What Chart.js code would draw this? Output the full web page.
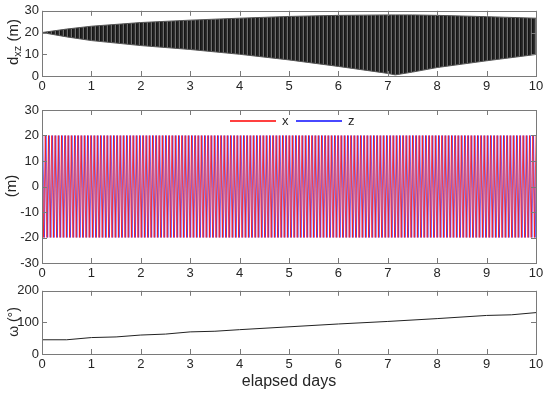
<!DOCTYPE html>
<html>
<head>
<meta charset="utf-8">
<script src="https://cdn.jsdelivr.net/npm/chart.js@4.4.1/dist/chart.umd.min.js"></script>
<style>
  body { margin: 0; background: #fff; width: 550px; height: 396px; position: relative; overflow: hidden; }
  canvas { position: absolute; left: 0; }
</style>
</head>
<body>
<canvas id="dxzChart" width="550" height="95" style="top:0px"></canvas>
<canvas id="xzChart" width="550" height="185" style="top:95px"></canvas>
<canvas id="omegaChart" width="550" height="116" style="top:280px"></canvas>
<script>
// envelope of d_xz (days, metres)
const envDays  = [0, 0.5, 1, 2, 3, 4, 5, 6, 6.5, 7, 7.15, 7.5, 8, 9, 10]
const dxzUpper = [20, 21.6, 22.9, 24.6, 25.7, 26.6, 27.4, 27.9, 28, 28.1, 28.1, 28.1, 27.9, 27.3, 26.6]
const dxzLower = [20, 18, 16.3, 14, 12.2, 10, 7.4, 4.4, 2.8, 1.2, 0.5, 1.8, 3.9, 7, 9.9]

// x / z peaks, one per half orbit (152 orbits in 10 days)
const xPeaks = [
  20,-20,20,-20,20,-20,20,-20,20,-20, 20,-20,20,-20,20,-20,20,-20,20,-20,
  20,-20,20,-20,20,-20,20,-20,20,-20, 20,-20,20,-20,20,-20,20,-20,20,-20,
  20,-20,20,-20,20,-20,20,-20,20,-20, 20,-20,20,-20,20,-20,20,-20,20,-20,
  20,-20,20,-20,20,-20,20,-20,20,-20, 20,-20,20,-20,20,-20,20,-20,20,-20,
  20,-20,20,-20,20,-20,20,-20,20,-20, 20,-20,20,-20,20,-20,20,-20,20,-20,
  20,-20,20,-20,20,-20,20,-20,20,-20, 20,-20,20,-20,20,-20,20,-20,20,-20,
  20,-20,20,-20,20,-20,20,-20,20,-20, 20,-20,20,-20,20,-20,20,-20,20,-20,
  20,-20,20,-20,20,-20,20,-20,20,-20, 20,-20,20,-20,20,-20,20,-20,20,-20,
  20,-20,20,-20,20,-20,20,-20,20,-20, 20,-20,20,-20,20,-20,20,-20,20,-20,
  20,-20,20,-20,20,-20,20,-20,20,-20, 20,-20,20,-20,20,-20,20,-20,20,-20,
  20,-20,20,-20,20,-20,20,-20,20,-20, 20,-20,20,-20,20,-20,20,-20,20,-20,
  20,-20,20,-20,20,-20,20,-20,20,-20, 20,-20,20,-20,20,-20,20,-20,20,-20,
  20,-20,20,-20,20,-20,20,-20,20,-20, 20,-20,20,-20,20,-20,20,-20,20,-20,
  20,-20,20,-20,20,-20,20,-20,20,-20, 20,-20,20,-20,20,-20,20,-20,20,-20,
  20,-20,20,-20,20,-20,20,-20,20,-20, 20,-20,20,-20,20,-20,20,-20,20,-20,
  20,-20,20,-20,20
]
const zPeaks = [
  20,-20,20,-20,20,-20,20,-20,20,-20, 20,-20,20,-20,20,-20,20,-20,20,-20,
  20,-20,20,-20,20,-20,20,-20,20,-20, 20,-20,20,-20,20,-20,20,-20,20,-20,
  20,-20,20,-20,20,-20,20,-20,20,-20, 20,-20,20,-20,20,-20,20,-20,20,-20,
  20,-20,20,-20,20,-20,20,-20,20,-20, 20,-20,20,-20,20,-20,20,-20,20,-20,
  20,-20,20,-20,20,-20,20,-20,20,-20, 20,-20,20,-20,20,-20,20,-20,20,-20,
  20,-20,20,-20,20,-20,20,-20,20,-20, 20,-20,20,-20,20,-20,20,-20,20,-20,
  20,-20,20,-20,20,-20,20,-20,20,-20, 20,-20,20,-20,20,-20,20,-20,20,-20,
  20,-20,20,-20,20,-20,20,-20,20,-20, 20,-20,20,-20,20,-20,20,-20,20,-20,
  20,-20,20,-20,20,-20,20,-20,20,-20, 20,-20,20,-20,20,-20,20,-20,20,-20,
  20,-20,20,-20,20,-20,20,-20,20,-20, 20,-20,20,-20,20,-20,20,-20,20,-20,
  20,-20,20,-20,20,-20,20,-20,20,-20, 20,-20,20,-20,20,-20,20,-20,20,-20,
  20,-20,20,-20,20,-20,20,-20,20,-20, 20,-20,20,-20,20,-20,20,-20,20,-20,
  20,-20,20,-20,20,-20,20,-20,20,-20, 20,-20,20,-20,20,-20,20,-20,20,-20,
  20,-20,20,-20,20,-20,20,-20,20,-20, 20,-20,20,-20,20,-20,20,-20,20,-20,
  20,-20,20,-20,20,-20,20,-20,20,-20, 20,-20,20,-20,20,-20,20,-20,20,-20,
  20,-20,20,-20,20
]
const seriesLabels = ['x', 'z']
const seriesColors = ['#ff4040', '#4848ff']

// omega (deg)
const omegaDays = [0, 0.5, 1, 1.5, 2, 2.5, 3, 3.5, 4, 5, 6, 7, 8, 9, 9.5, 10]
const omegaDeg  = [45, 45, 52, 54, 60, 63, 70, 72, 77, 86, 95, 103, 112, 122, 124, 131]

const dayTicks = [0, 1, 2, 3, 4, 5, 6, 7, 8, 9, 10]

const TEXT = '#262626'
const AXIS = '#7a7a7a'
const FONT = 'Liberation Sans, Arial, sans-serif'

// sample times of the peaks: x peaks every half orbit, z a quarter orbit later
const halfStep = 10 / (xPeaks.length - 1)
const xSeries = xPeaks.map((v, i) => ({ x: i * halfStep, y: v }))
const zSeries = zPeaks.map((v, i) => ({ x: i * halfStep + halfStep / 2, y: v }))

const pairs = (xs, ys) => xs.map((d, i) => ({ x: d, y: ys[i] }))

// box frame, inward ticks, y title, legend
const panelDeco = {
    id: 'panelDeco',
    afterDraw(chart, args, opts) {
        const ctx = chart.ctx
        const a = chart.chartArea
        const xs = chart.scales.x
        const ys = chart.scales.y
        ctx.save()
        ctx.strokeStyle = AXIS
        ctx.lineWidth = 1
        ctx.strokeRect(Math.round(a.left) + 0.5, Math.round(a.top) + 0.5,
            Math.round(a.right - a.left), Math.round(a.bottom - a.top))
        ctx.beginPath()
        xs.ticks.forEach(t => {
            const px = Math.round(xs.getPixelForValue(t.value)) + 0.5
            ctx.moveTo(px, a.bottom); ctx.lineTo(px, a.bottom - 5)
            ctx.moveTo(px, a.top); ctx.lineTo(px, a.top + 5)
        })
        ys.ticks.forEach(t => {
            const py = Math.round(ys.getPixelForValue(t.value)) + 0.5
            ctx.moveTo(a.left, py); ctx.lineTo(a.left + 5, py)
            ctx.moveTo(a.right, py); ctx.lineTo(a.right - 5, py)
        })
        ctx.stroke()

        // rotated y title, pieces may be subscripts
        ctx.fillStyle = TEXT
        ctx.textBaseline = 'middle'
        ctx.translate(opts.titleX, opts.titleY)
        ctx.rotate(-Math.PI / 2)
        let w = 0
        opts.title.forEach(p => {
            ctx.font = p.size + 'px ' + FONT
            w += ctx.measureText(p.text).width
        })
        let cx = -w / 2
        opts.title.forEach(p => {
            ctx.font = p.size + 'px ' + FONT
            ctx.fillText(p.text, cx, p.dy || 0)
            cx += ctx.measureText(p.text).width
        })
        ctx.restore()

        if (opts.legendX) {
            ctx.save()
            ctx.font = '13px ' + FONT
            ctx.textBaseline = 'middle'
            const ly = opts.legendY
            let lx = opts.legendX
            seriesLabels.forEach((lab, i) => {
                ctx.fillStyle = seriesColors[i]
                ctx.fillRect(lx, ly, 46, 2)
                ctx.fillStyle = TEXT
                ctx.fillText(lab, lx + 52, ly + 1)
                lx += 66
            })
            ctx.restore()
        }

        if (opts.xTitle) {
            ctx.save()
            ctx.font = '16px ' + FONT
            ctx.fillStyle = TEXT
            ctx.textAlign = 'center'
            ctx.textBaseline = 'middle'
            ctx.fillText(opts.xTitle, (a.left + a.right) / 2, opts.xTitleY)
            ctx.restore()
        }
    }
}

function panelOptions(yMin, yMax, yStep, plotTop, plotBottom, canvasH, deco) {
    return {
        responsive: false,
        animation: false,
        events: [],
        layout: { padding: { left: 0, right: 14, top: plotTop, bottom: 0 } },
        plugins: {
            legend: { display: false },
            tooltip: { enabled: false },
            panelDeco: deco
        },
        scales: {
            x: {
                type: 'linear', min: 0, max: 10,
                afterBuildTicks: s => { s.ticks = dayTicks.map(v => ({ value: v })) },
                ticks: { color: TEXT, font: { size: 13, family: FONT }, padding: 3, maxRotation: 0 },
                grid: { display: false, drawTicks: false },
                border: { display: false },
                afterFit: s => { s.height = canvasH - plotBottom }
            },
            y: {
                min: yMin, max: yMax,
                ticks: { stepSize: yStep, color: TEXT, font: { size: 13, family: FONT }, padding: 3 },
                grid: { display: false, drawTicks: false },
                border: { display: false },
                afterFit: s => { s.width = 42 }
            }
        }
    }
}

document.addEventListener("DOMContentLoaded", () => {

    // stripy dark fill for the fast d_xz oscillation
    const topCanvas = document.getElementById("dxzChart")
    const pc = document.createElement('canvas')
    pc.width = 4; pc.height = 1
    const pg = pc.getContext('2d')
    const cols = ['#151515', '#222', '#2e2e2e', '#6e6e6e']
    cols.forEach((c, i) => { pg.fillStyle = c; pg.fillRect(i, 0, 1, 1) })
    const stripes = topCanvas.getContext('2d').createPattern(pc, 'repeat')

    new Chart(topCanvas, {
        type: 'line',
        data: {
            datasets: [
                { label: 'upper', data: pairs(envDays, dxzUpper), borderColor: '#555', borderWidth: 1, pointRadius: 0, fill: false },
                { label: 'lower', data: pairs(envDays, dxzLower), borderColor: '#555', borderWidth: 1, pointRadius: 0, fill: '-1', backgroundColor: stripes }
            ]
        },
        options: panelOptions(0, 30, 10, 9, 76, 95, {
            titleX: 14, titleY: 42,
            title: [{ text: 'd', size: 15 }, { text: 'xz', size: 11, dy: 4 }, { text: ' (m)', size: 15 }]
        }),
        plugins: [panelDeco]
    })

    new Chart(document.getElementById("xzChart"), {
        type: 'line',
        data: {
            datasets: [
                { label: seriesLabels[0], data: xSeries, borderColor: 'rgba(255,0,0,0.85)', borderWidth: 0.8, pointRadius: 0 },
                { label: seriesLabels[1], data: zSeries, borderColor: 'rgba(40,40,255,0.8)', borderWidth: 0.8, pointRadius: 0 }
            ]
        },
        options: panelOptions(-30, 30, 10, 15, 168, 185, {
            titleX: 12, titleY: 91,
            title: [{ text: '(m)', size: 15 }],
            legendX: 230, legendY: 25
        }),
        plugins: [panelDeco]
    })

    new Chart(document.getElementById("omegaChart"), {
        type: 'line',
        data: {
            datasets: [
                { label: 'omega', data: pairs(omegaDays, omegaDeg), borderColor: '#222', borderWidth: 1, pointRadius: 0 }
            ]
        },
        options: panelOptions(0, 200, 100, 9, 74, 116, {
            titleX: 14, titleY: 42,
            title: [{ text: 'ω (°)', size: 14 }],
            xTitle: 'elapsed days', xTitleY: 102
        }),
        plugins: [panelDeco]
    })
})
</script>
</body>
</html>
